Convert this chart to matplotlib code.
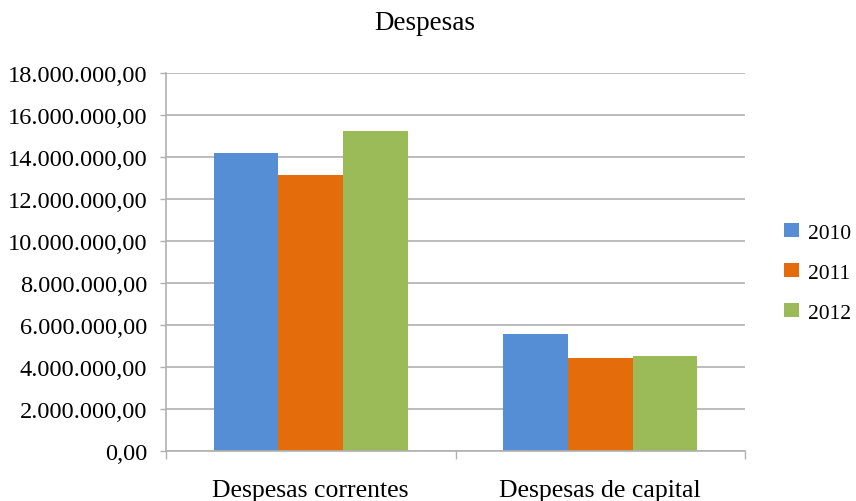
import matplotlib
matplotlib.use("Agg")
import matplotlib.pyplot as plt
from matplotlib.ticker import FuncFormatter, FixedLocator
import numpy as np

categories = ["Despesas correntes", "Despesas de capital"]
years = ["2010", "2011", "2012"]
values_2010 = [14200000, 5560000]
values_2011 = [13150000, 4420000]
values_2012 = [15240000, 4510000]
series = [values_2010, values_2011, values_2012]
colors = ["#558ED5", "#E46C0A", "#9BBB59"]
yticks = [0, 2e6, 4e6, 6e6, 8e6, 10e6, 12e6, 14e6, 16e6, 18e6]

plt.rcParams['font.family'] = ['Liberation Serif', 'DejaVu Serif']

W, H = 856, 502
fig = plt.figure(figsize=(W / 100, H / 100), dpi=100)
ax = fig.add_axes([166 / W, 1 - 452 / H, (745 - 166) / W, (452 - 74) / H])

x = np.arange(len(categories))
bw = 0.223
for i, (vals, col, lab) in enumerate(zip(series, colors, years)):
    ax.bar(x + (i - 1) * bw, vals, width=bw, color=col, label=lab, zorder=3)

ax.set_xlim(-0.5, 1.5)
ax.set_ylim(0, 18e6)
ax.set_yticks(yticks)

def fmt(v, pos):
    s = f"{int(round(v)):,}".replace(",", ".")
    return s + ",00"

ax.yaxis.set_major_formatter(FuncFormatter(fmt))
ax.grid(axis='y', color='#B0B0B0', linewidth=1.2, zorder=0)
for s in ['top', 'right']:
    ax.spines[s].set_visible(False)
for s in ['left', 'bottom']:
    ax.spines[s].set_color('#B0B0B0')
    ax.spines[s].set_linewidth(1.2)
    ax.spines[s].set_zorder(4)

ax.tick_params(axis='y', length=4.5, width=1.0, color='#B0B0B0', pad=9, labelsize=17.6, labelcolor='black')
ax.set_xticks(x)
ax.set_xticklabels(categories)
ax.tick_params(axis='x', which='major', length=0, pad=20, labelsize=18.5)
ax.xaxis.set_minor_locator(FixedLocator([-0.5, 0.5, 1.5]))
ax.tick_params(axis='x', which='minor', length=6, width=1.0, color='#B0B0B0')

fig.text(0.496, 1 - 23 / H, "Despesas", ha='center', va='center', fontsize=19.5)

fig.legend(loc='center left', bbox_to_anchor=(784 / W, 1 - 274 / H), frameon=False,
           fontsize=15.5, handlelength=0.7, handleheight=0.6, handletextpad=0.4,
           labelspacing=0.95, borderpad=0, borderaxespad=0)

fig.savefig("out.png", dpi=100)
